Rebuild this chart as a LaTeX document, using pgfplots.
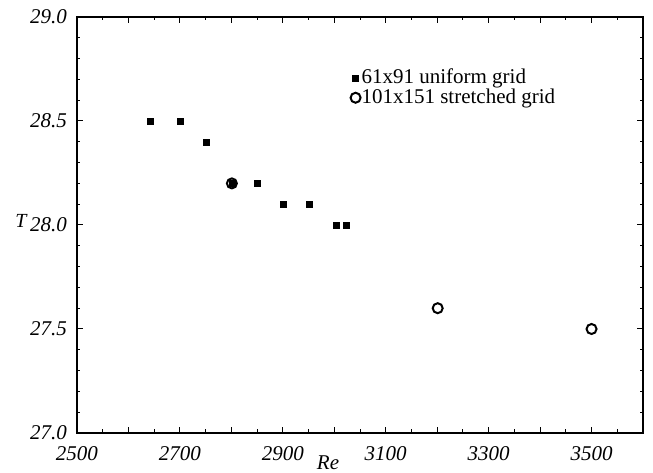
\documentclass[border=0pt]{standalone}
\usepackage{fontspec}
\setmainfont{Liberation Serif}
\usepackage{pgfplots}
\pgfplotsset{compat=1.18}

\begin{document}
\fontsize{21}{23}\selectfont
\begin{tikzpicture}
  \useasboundingbox (-77pt,-40pt) rectangle (576pt,433pt);
  \begin{axis}[
    at={(0,0)}, anchor=south west,
    width=566pt, height=416pt, scale only axis,
    xmin=2500, xmax=3600, ymin=27, ymax=29,
    xtick={2500,2600,...,3600},
    xticklabels={2500,,2700,,2900,,3100,,3300,,3500,},
    minor x tick num=1,
    ytick={27,27.5,28,28.5,29},
    yticklabels={27.0,27.5,28.0,28.5,29.0},
    minor y tick num=4,
    tick align=inside,
    major tick length=6pt, minor tick length=3.5pt,
    every tick/.style={black, line width=1pt},
    axis line style={line width=1.6pt},
    ticklabel style={font=\fontsize{21}{23}\selectfont\itshape},
    yticklabel style={xshift=-3pt},
    xticklabel style={yshift=-6pt},
    clip=false,
    legend style={draw=none, fill=none, at={(rel axis cs:0.483,0.878)},
      anchor=north west, inner sep=0pt, row sep=0pt,
      font=\fontsize{21}{22}\selectfont,
      nodes={inner sep=1pt}},
    legend cell align=left,
  ]
    % 61x91 uniform grid
    \addplot[only marks, mark=square*, mark size=3pt, black]
      coordinates {(2642,28.5) (2700,28.5) (2752,28.4) (2802,28.2) (2851,28.2)
                   (2901,28.1) (2951,28.1) (3003,28.0) (3023,28.0)};
    \addlegendentry{61x91 uniform grid}
    % 101x151 stretched grid
    \addplot[only marks, mark=o, mark size=5pt, black, mark options={line width=2pt}]
      coordinates {(2801,28.2) (3201,27.6) (3500,27.5)};
    \addlegendentry{101x151 stretched grid}

    \node[font=\fontsize{21}{23}\selectfont\itshape] at (rel axis cs:0.4435,0) [yshift=-30pt] {Re};
    \node[font=\fontsize{20}{22}\selectfont\itshape] at (rel axis cs:0,0.5) [xshift=-56pt,yshift=4pt] {T};
  \end{axis}
\end{tikzpicture}
\end{document}
